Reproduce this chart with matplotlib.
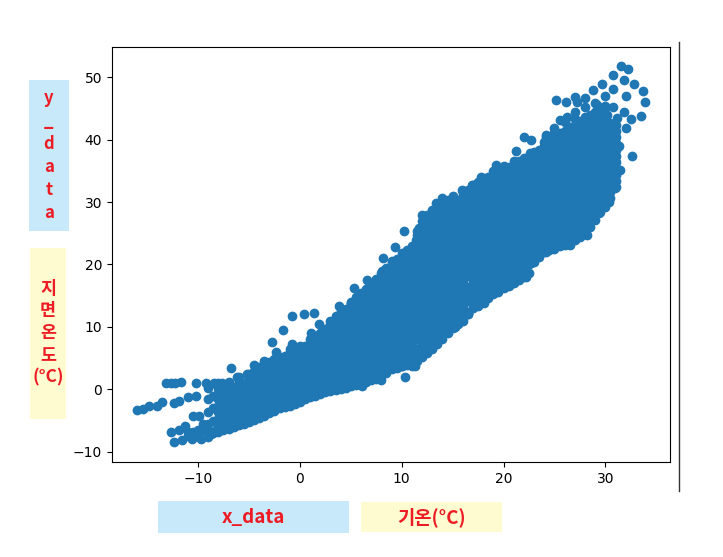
# -*- coding: utf-8 -*-
import matplotlib
matplotlib.use('Agg')
import matplotlib.pyplot as plt
from matplotlib.lines import Line2D
from matplotlib.patches import Rectangle

#%% Data
# points that stick out of the main band
edge_x = [-16.0, -15.45, -14.8, -14.0, -13.55, -13.15, -12.7, -12.3, -11.7, -12.4, -11.85, -11.0, -10.2,
          -12.7, -12.4, -11.85, -11.25, -10.5, -9.9, -11.6, -10.6, -9.7, -8.7, -8.2, -10.2, -9.2, -8.4, -7.6,
          -6.8, -6.2, -5.2, -4.5, -3.5, -2.7, -1.7, -0.8, 0.45, 1.4, 1.1, 1.9, -0.8, -0.3, -2.3,
          10.2, 9.3, 8.2, 8.1, 6.6, 5.3, 3.8, 7.5, 10.3, 8.0, 5.0, 13.0, 15.2, 11.3, 10.0, 6.1,
          12.0, 13.4, 14.0, 15.9, 11.4, 11.0, 11.7, 16.9, 17.8, 19.3, 21.2, 22.6, 22.0, 22.7, 24.2,
          16.5, 18.1, 19.4, 22.2, 22.7, 24.2, 26.5, 28.2, 29.4, 30.4, 30.9, 31.4, 32.6,
          31.5, 32.2, 30.8, 31.8, 32.8, 33.7, 33.9, 33.5, 32.5, 29.7, 28.8, 28.0, 27.0, 26.1, 25.2, 27.2,
          26.2, 25.5, 24.2, 32.0, 30.8, 31.8, 30.8, 32.0, 31.1, 31.3, 30.2, 29.2,
          -11.0, -10.5, -10.0, -9.5, -9.5, -11.0, -10.2, -9.0,
          16.2, 16.3, 16.2, 16.3, 16.2, 16.3, 16.2, 16.3, 16.2, 16.3, 16.2, 16.3, 16.2, 16.3, 16.2, 16.3]
edge_y = [-3.3, -3.2, -2.7, -2.6, -2.0, 1.07, 1.07, 1.07, 1.1, -2.2, -1.9, -1.2, -1.07,
          -6.9, -8.5, -6.5, -5.9, -4.3, -4.3, -8.2, -8.0, -7.9, -7.2, -6.6, 1.07, 1.07, 1.0, 1.0,
          3.45, 2.0, 2.5, 3.9, 4.5, 7.6, 9.5, 11.7, 12.0, 12.3, 9.1, 10.4, 7.2, 6.4, 5.9,
          25.4, 22.8, 21.0, 19.0, 17.5, 16.3, 13.3, 17.7, 2.0, 1.5, 13.9, 6.4, 10.0, 3.7, 3.7, 0.5,
          28.0, 29.8, 30.6, 32.0, 24.0, 22.4, 25.8, 32.7, 34.0, 35.9, 38.2, 37.9, 40.4, 40.0, 40.5,
          12.0, 13.9, 15.7, 18.0, 20.2, 22.0, 23.2, 24.8, 28.3, 30.0, 32.3, 35.1, 37.4,
          51.8, 51.3, 50.3, 49.5, 48.9, 47.8, 46.0, 43.8, 43.3, 49.0, 47.9, 46.6, 46.9, 46.0, 46.3, 46.0,
          43.7, 43.1, 40.7, 47.0, 48.2, 44.5, 45.3, 41.8, 43.4, 39.0, 44.0, 45.5,
          -7.5, -6.8, -6.5, -6.5, -5.5, -6.9, -7.2, -6.6,
          12.6, 14.6, 16.5, 18.5, 19.6, 20.6, 21.6, 22.6, 23.6, 24.6, 25.6, 26.6, 27.6, 28.6, 29.8, 30.8]

# main band, one list of ground temperatures per air temperature
air_temp = [-9.0, -8.5, -8.0, -7.5, -7.0, -6.5, -6.0, -5.5, -5.0, -4.5, -4.0, -3.5, -3.0, -2.5, -2.0, -1.5,
            -1.0, -0.5, 0.0, 0.5, 1.0, 1.5, 2.0, 2.5, 3.0, 3.5, 4.0, 4.5, 5.0, 5.5, 6.0, 6.5,
            7.0, 7.5, 8.0, 8.5, 9.0, 9.5, 10.0, 10.5, 11.0, 11.5, 12.0, 12.5, 13.0, 13.5, 14.0, 14.5,
            15.0, 15.5, 16.0, 16.5, 17.0, 17.5, 18.0, 18.5, 19.0, 19.5, 20.0, 20.5, 21.0, 21.5, 22.0, 22.5,
            23.0, 23.5, 24.0, 24.5, 25.0, 25.5, 26.0, 26.5, 27.0, 27.5, 28.0, 28.5, 29.0, 29.5, 30.0, 30.5, 31.0]
ground_temp = [
    [-7.6, -5.6, -3.6, -1.6, 0.2],
    [-7.0, -5.0, -3.0, -1.0],
    [-6.8, -4.8, -2.6, -0.6, 1.0],
    [-6.5, -4.4, -2.2, -0.2],
    [-6.4, -4.2, -2.0, 0.0, 1.2],
    [-6.0, -3.9, -1.8, 0.4],
    [-5.8, -3.6, -1.4, 0.6, 2.0],
    [-5.5, -3.3, -1.1, 1.0],
    [-5.2, -3.0, -0.8, 1.4, 2.4],
    [-4.9, -2.7, -0.5, 1.8, 3.0],
    [-4.6, -2.4, -0.2, 1.6, 3.6],
    [-4.2, -2.1, 0.1, 2.2, 3.9],
    [-3.8, -1.8, 0.4, 2.4, 4.4],
    [-3.4, -1.4, 0.7, 2.7, 4.8],
    [-3.0, -1.1, 1.0, 3.0, 5.2],
    [-2.8, -0.8, 1.3, 3.3, 5.3],
    [-2.6, -0.5, 1.6, 3.6, 5.6, 6.5],
    [-2.3, -0.2, 1.9, 3.9, 6.0],
    [-2.0, 0.1, 2.2, 4.2, 6.2, 7.0],
    [-1.6, 0.5, 2.5, 4.5, 6.5],
    [-1.2, 0.8, 2.8, 4.8, 6.8, 8.0],
    [-1.0, 1.1, 3.1, 5.1, 7.1, 8.4],
    [-0.8, 1.4, 3.4, 5.4, 7.4, 9.0],
    [-0.5, 1.7, 3.7, 5.7, 7.7, 9.6],
    [-0.3, 2.0, 4.0, 6.0, 8.0, 10.0, 11.0],
    [-0.1, 2.3, 4.3, 6.3, 8.3, 10.3, 11.8],
    [0.0, 2.6, 4.6, 6.6, 8.6, 10.6, 12.5],
    [0.2, 2.9, 4.9, 6.9, 8.9, 10.9, 12.9],
    [0.5, 3.0, 5.2, 7.2, 9.2, 11.2, 13.2, 14.0],
    [0.7, 3.3, 5.5, 7.5, 9.5, 11.5, 13.5, 14.8],
    [0.8, 3.6, 5.8, 7.8, 9.8, 11.8, 13.8, 15.5],
    [1.2, 3.9, 6.1, 8.1, 10.1, 12.1, 14.1, 16.0],
    [1.5, 4.0, 6.2, 8.4, 10.4, 12.4, 14.4, 16.6],
    [1.7, 4.3, 6.5, 8.7, 10.7, 12.7, 14.7, 16.9],
    [2.2, 4.6, 6.8, 9.0, 11.0, 13.0, 15.0, 17.0, 18.6],
    [2.6, 4.9, 7.1, 9.3, 11.3, 13.3, 15.3, 17.3, 19.5],
    [3.2, 5.2, 7.4, 9.6, 11.6, 13.6, 15.6, 17.6, 19.8, 20.6],
    [3.4, 5.5, 7.7, 9.9, 11.9, 13.9, 15.9, 17.9, 20.1],
    [3.7, 5.8, 8.0, 10.2, 12.2, 14.2, 16.2, 18.2, 20.4, 21.8],
    [3.9, 6.0, 8.3, 10.5, 12.5, 14.5, 16.5, 18.5, 20.7, 22.4],
    [3.8, 6.2, 8.6, 10.8, 12.8, 14.8, 16.8, 18.8, 21.0, 23.0],
    [4.5, 6.5, 8.9, 11.1, 13.1, 15.1, 17.1, 19.1, 21.3, 23.5, 25.4],
    [5.2, 7.2, 9.2, 11.4, 13.4, 15.4, 17.4, 19.4, 21.6, 23.8, 26.0, 27.0],
    [5.8, 7.8, 9.5, 11.7, 13.7, 15.7, 17.7, 19.7, 21.9, 24.1, 26.3, 28.0],
    [6.6, 8.2, 10.2, 12.0, 14.0, 16.0, 18.0, 20.0, 22.2, 24.4, 26.6, 28.8],
    [7.2, 9.0, 10.8, 12.3, 14.3, 16.3, 18.3, 20.3, 22.5, 24.7, 26.9, 29.0],
    [8.0, 10.0, 12.0, 14.0, 16.0, 18.0, 20.0, 22.0, 24.0, 26.0, 28.0, 30.0],
    [9.0, 10.9, 12.9, 14.9, 16.9, 18.9, 20.9, 22.9, 24.9, 26.9, 28.9, 30.3],
    [9.9, 11.8, 13.8, 15.8, 17.8, 19.8, 21.8, 23.8, 25.8, 27.8, 29.8, 31.0],
    [10.4, 12.4, 14.4, 16.4, 18.4, 20.4, 22.4, 24.4, 26.4, 28.4, 30.4],
    [10.9, 13.0, 15.0, 17.0, 19.0, 21.0, 23.0, 25.0, 27.0, 29.0, 31.0, 31.8],
    [12.2, 14.2, 16.2, 18.2, 20.2, 22.2, 24.2, 26.2, 28.2, 30.2, 32.0],
    [13.0, 15.0, 17.0, 19.0, 21.0, 23.0, 25.0, 27.0, 29.0, 31.0, 32.8],
    [13.4, 15.4, 17.4, 19.4, 21.4, 23.4, 25.4, 27.4, 29.4, 31.4, 33.2],
    [14.1, 16.0, 18.0, 20.0, 22.0, 24.0, 26.0, 28.0, 30.0, 32.0, 33.8],
    [14.6, 16.6, 18.6, 20.6, 22.6, 24.6, 26.6, 28.6, 30.6, 32.6, 34.0],
    [15.3, 17.2, 19.2, 21.2, 23.2, 25.2, 27.2, 29.2, 31.2, 33.2, 35.0],
    [15.6, 17.8, 19.8, 21.8, 23.8, 25.8, 27.8, 29.8, 31.8, 33.8, 35.2],
    [16.2, 18.2, 20.2, 22.2, 24.2, 26.2, 28.2, 30.2, 32.2, 34.2, 35.8],
    [16.6, 18.6, 20.6, 22.6, 24.6, 26.6, 28.6, 30.6, 32.6, 34.6],
    [17.1, 19.2, 21.2, 23.2, 25.2, 27.2, 29.2, 31.2, 33.2, 35.2, 36.6],
    [17.5, 19.6, 21.6, 23.6, 25.6, 27.6, 29.6, 31.6, 33.6, 35.6],
    [18.0, 20.0, 22.0, 24.0, 26.0, 28.0, 30.0, 32.0, 34.0, 36.0],
    [18.6, 20.6, 22.6, 24.6, 26.6, 28.6, 30.6, 32.6, 34.6, 36.6],
    [20.4, 22.2, 24.2, 26.2, 28.2, 30.2, 32.2, 34.2, 36.2, 38.0],
    [21.2, 23.0, 25.0, 27.0, 29.0, 31.0, 33.0, 35.0, 37.0, 38.4],
    [22.0, 24.0, 26.0, 28.0, 30.0, 32.0, 34.0, 36.0, 38.0, 39.6],
    [22.4, 24.4, 26.4, 28.4, 30.4, 32.4, 34.4, 36.4, 38.4, 40.4],
    [22.5, 24.8, 26.8, 28.8, 30.8, 32.8, 34.8, 36.8, 38.8, 40.6, 41.8],
    [23.0, 25.0, 27.0, 29.0, 31.0, 33.0, 35.0, 37.0, 39.0, 41.0],
    [23.2, 25.4, 27.4, 29.4, 31.4, 33.4, 35.4, 37.4, 39.4, 41.4, 42.8],
    [23.6, 25.8, 27.8, 29.8, 31.8, 33.8, 35.8, 37.8, 39.8, 41.8],
    [24.0, 26.2, 28.2, 30.2, 32.2, 34.2, 36.2, 38.2, 40.2, 42.2, 44.4],
    [24.4, 26.6, 28.6, 30.6, 32.6, 34.6, 36.6, 38.6, 40.6, 42.6],
    [24.9, 27.0, 29.0, 31.0, 33.0, 35.0, 37.0, 39.0, 41.0, 43.0, 45.2],
    [26.0, 28.0, 30.0, 32.0, 34.0, 36.0, 38.0, 40.0, 42.0, 44.0],
    [27.2, 29.4, 31.4, 33.4, 35.4, 37.4, 39.4, 41.4, 43.4, 45.8],
    [28.4, 30.4, 32.4, 34.4, 36.4, 38.4, 40.4, 42.4, 44.4],
    [29.2, 31.2, 33.2, 35.2, 37.2, 39.2, 41.2, 43.2, 45.4, 47.0],
    [30.6, 32.6, 34.6, 36.6, 38.6, 40.6, 42.6],
    [32.4, 34.4, 36.4, 38.4, 40.4, 42.4],
]

# second pass over the band, fills the space between the rows above
air_temp_fill = [-8, -7, -6, -5, -4, -3, -2, -1, 0, 1, 2, 3, 4, 5, 6, 7, 8, 9, 10, 11, 12, 13, 14, 15, 16,
                 17, 18, 19, 20, 21, 22, 23, 24, 25, 26, 27, 28, 29, 30, 31]
ground_temp_fill = [
    [-5.8, -3.7, -1.6, 0.2],
    [-5.3, -3.1, -1.0, 0.6],
    [-4.7, -2.5, -0.4, 1.3],
    [-4.1, -1.9, 0.3, 1.9],
    [-3.5, -1.3, 0.7, 2.6],
    [-2.8, -0.7, 1.4, 3.4],
    [-2.0, 0.0, 2.0, 4.1],
    [-1.5, 0.5, 2.6, 4.6, 6.0],
    [-1.0, 1.1, 3.2, 5.2, 6.6],
    [-0.2, 1.8, 3.8, 5.8, 7.4],
    [0.3, 2.4, 4.4, 6.4, 8.2],
    [0.8, 3.0, 5.0, 7.0, 9.0, 10.5],
    [1.3, 3.6, 5.6, 7.6, 9.6, 11.6],
    [1.8, 4.1, 6.2, 8.2, 10.2, 12.2, 13.6],
    [2.2, 4.7, 6.8, 8.8, 10.8, 12.8, 14.8],
    [2.8, 5.1, 7.3, 9.4, 11.4, 13.4, 15.4],
    [3.4, 5.7, 7.9, 10.0, 12.0, 14.0, 16.0, 17.8],
    [4.2, 6.3, 8.5, 10.6, 12.6, 14.6, 16.6, 18.7, 20.2],
    [4.8, 6.9, 9.1, 11.2, 13.2, 15.2, 17.2, 19.3, 21.1],
    [5.0, 7.4, 9.7, 11.8, 13.8, 15.8, 17.8, 19.9, 22.0],
    [6.5, 8.5, 10.4, 12.7, 14.7, 16.7, 18.7, 20.8, 23.0, 25.0],
    [7.4, 9.2, 11.1, 13.2, 15.2, 17.2, 19.2, 21.3, 23.5, 25.7, 27.8],
    [9.0, 11.0, 13.0, 15.0, 17.0, 19.0, 21.0, 23.0, 25.0, 27.0, 29.0],
    [10.9, 12.8, 14.8, 16.8, 18.8, 20.8, 22.8, 24.8, 26.8, 28.8, 30.6],
    [11.9, 14.0, 16.0, 18.0, 20.0, 22.0, 24.0, 26.0, 28.0, 30.0, 31.4],
    [13.9, 15.9, 17.9, 19.9, 21.9, 23.9, 25.9, 27.9, 29.9, 31.9],
    [15.0, 17.0, 19.0, 21.0, 23.0, 25.0, 27.0, 29.0, 31.0, 33.0],
    [16.4, 18.5, 20.5, 22.5, 24.5, 26.5, 28.5, 30.5, 32.5, 34.5],
    [17.2, 19.2, 21.2, 23.2, 25.2, 27.2, 29.2, 31.2, 33.2, 35.0],
    [18.0, 20.0, 22.0, 24.0, 26.0, 28.0, 30.0, 32.0, 34.0, 36.0],
    [19.0, 21.0, 23.0, 25.0, 27.0, 29.0, 31.0, 33.0, 35.0, 37.0],
    [21.3, 23.1, 25.1, 27.1, 29.1, 31.1, 33.1, 35.1, 37.1],
    [23.0, 25.0, 27.0, 29.0, 31.0, 33.0, 35.0, 37.0, 39.0],
    [23.9, 25.9, 27.9, 29.9, 31.9, 33.9, 35.9, 37.9, 39.9, 41.0],
    [24.3, 26.3, 28.3, 30.3, 32.3, 34.3, 36.3, 38.3, 40.3],
    [25.1, 27.1, 29.1, 31.1, 33.1, 35.1, 37.1, 39.1, 41.1, 43.3],
    [25.9, 27.9, 29.9, 31.9, 33.9, 35.9, 37.9, 39.9, 41.9, 43.6],
    [28.2, 30.2, 32.2, 34.2, 36.2, 38.2, 40.2, 42.2, 44.5],
    [30.2, 32.2, 34.2, 36.2, 38.2, 40.2, 42.5, 45.0],
    [33.4, 35.4, 37.4, 39.4, 41.4],
]

# third pass, half way between the second pass columns
air_temp_mid = [-7.5, -6.5, -5.5, -4.5, -3.5, -2.5, -1.5, -0.5, 0.5, 1.5, 2.5, 3.5, 4.5, 5.5, 6.5, 7.5, 8.5, 9.5,
                10.5, 11.5, 12.5, 13.5, 14.5, 15.5, 16.5, 17.5, 18.5, 19.5, 20.5, 21.5, 22.5, 23.5, 24.5, 25.5,
                26.5, 27.5, 28.5, 29.5, 30.5]
ground_temp_mid = [
    [-5.4, -3.3, -1.2],
    [-5.0, -2.9, -0.7],
    [-4.4, -2.2, 0.0],
    [-3.8, -1.6, 0.6, 2.4],
    [-3.2, -1.0, 1.1, 3.0],
    [-2.4, -0.4, 1.7, 3.7],
    [-1.8, 0.2, 2.3, 4.3],
    [-1.2, 0.8, 2.9, 5.0],
    [-0.6, 1.5, 3.5, 5.5, 7.0],
    [0.0, 2.1, 4.1, 6.1, 7.8],
    [0.6, 2.7, 4.7, 6.7, 8.7],
    [1.1, 3.3, 5.3, 7.3, 9.3, 11.0],
    [1.6, 3.9, 5.9, 7.9, 9.9, 11.9],
    [2.0, 4.4, 6.5, 8.5, 10.5, 12.5, 14.2],
    [2.6, 5.0, 7.1, 9.1, 11.1, 13.1, 15.1],
    [3.0, 5.4, 7.6, 9.7, 11.7, 13.7, 15.7],
    [3.8, 6.0, 8.2, 10.3, 12.3, 14.3, 16.3, 18.4],
    [4.5, 6.6, 8.8, 10.9, 12.9, 14.9, 16.9, 19.0, 20.8],
    [5.0, 7.2, 9.4, 11.5, 13.5, 15.5, 17.5, 19.6, 21.6],
    [6.0, 8.1, 10.2, 12.4, 14.4, 16.4, 18.4, 20.5, 22.7, 24.7],
    [6.8, 8.7, 10.6, 12.9, 14.9, 16.9, 18.9, 21.0, 23.2, 25.4, 27.2],
    [8.1, 9.9, 11.5, 13.3, 15.3, 17.3, 19.3, 21.4, 23.6, 25.8, 27.9],
    [9.9, 11.9, 13.9, 15.9, 17.9, 19.9, 21.9, 23.9, 25.9, 27.9, 29.6],
    [11.4, 13.4, 15.4, 17.4, 19.4, 21.4, 23.4, 25.4, 27.4, 29.4],
    [12.1, 14.1, 16.1, 18.1, 20.1, 22.1, 24.1, 26.1, 28.1, 30.1],
    [14.4, 16.4, 18.4, 20.4, 22.4, 24.4, 26.4, 28.4, 30.4, 32.4],
    [15.6, 17.6, 19.6, 21.6, 23.6, 25.6, 27.6, 29.6, 31.6, 33.6],
    [16.8, 18.8, 20.8, 22.8, 24.8, 26.8, 28.8, 30.8, 32.8, 34.8],
    [17.6, 19.6, 21.6, 23.6, 25.6, 27.6, 29.6, 31.6, 33.6, 35.6],
    [18.6, 20.6, 22.6, 24.6, 26.6, 28.6, 30.6, 32.6, 34.6, 36.6],
    [20.0, 22.0, 24.0, 26.0, 28.0, 30.0, 32.0, 34.0, 36.0],
    [22.2, 24.0, 26.0, 28.0, 30.0, 32.0, 34.0, 36.0, 38.0],
    [23.4, 25.4, 27.4, 29.4, 31.4, 33.4, 35.4, 37.4, 39.4],
    [24.2, 26.2, 28.2, 30.2, 32.2, 34.2, 36.2, 38.2, 40.2],
    [24.6, 26.6, 28.6, 30.6, 32.6, 34.6, 36.6, 38.6, 40.6, 42.0],
    [25.6, 27.6, 29.6, 31.6, 33.6, 35.6, 37.6, 39.6, 41.6, 43.0],
    [26.9, 28.9, 30.9, 32.9, 34.9, 36.9, 38.9, 40.9, 42.9],
    [29.4, 31.4, 33.4, 35.4, 37.4, 39.4, 41.4, 43.4],
    [31.6, 33.6, 35.6, 37.6, 39.6, 41.6],
]

x_ticks = [-10, 0, 10, 20, 30]
y_ticks = [-10, 0, 10, 20, 30, 40, 50]
x_labels = ['x_data', '기온(°C)']
y_labels = ['y\n_\nd\na\nt\na', '지\n면\n온\n도\n(°C)']

x_data = list(edge_x)
y_data = list(edge_y)
for temps, grounds in [(air_temp, ground_temp), (air_temp_fill, ground_temp_fill), (air_temp_mid, ground_temp_mid)]:
    for t, ground in zip(temps, grounds):
        x_data += [t] * len(ground)
        y_data += ground

#%% Plot
W, H = 723, 557
BLUE = '#C7E9FA'
YELLOW = '#FFFBD0'
RED = '#ED1C24'
plt.rcParams['font.family'] = ['Noto Sans CJK KR', 'DejaVu Sans']

fig = plt.figure(figsize=(W / 100, H / 100), dpi=100)
ax = fig.add_axes([112 / W, 1 - 462 / H, 558 / W, 415 / H])
ax.scatter(x_data, y_data, s=36, color='#1f77b4')
ax.set_xlim(-18.45, 36.35)
ax.set_ylim(-11.65, 54.85)
ax.set_xticks(x_ticks)
ax.set_yticks(y_ticks)
ax.set_xticklabels(['\u2212' + str(-v) if v < 0 else str(v) for v in x_ticks], family='DejaVu Sans', fontsize=10)
ax.set_yticklabels(['\u2212' + str(-v) if v < 0 else str(v) for v in y_ticks], family='DejaVu Sans', fontsize=10)


def label_box(left, top, right, bottom, color, text, size, spacing=1.0):
    fig.add_artist(Rectangle((left / W, 1 - bottom / H), (right - left) / W, (bottom - top) / H,
                             transform=fig.transFigure, facecolor=color, edgecolor='none'))
    fig.text((left + right) / 2 / W, 1 - (top + bottom) / 2 / H, text, color=RED, fontsize=size,
             fontweight='bold', ha='center', va='center', linespacing=spacing)


label_box(29, 80, 69, 231, BLUE, y_labels[0], 12, 1.36)
label_box(30, 248, 66, 419, YELLOW, y_labels[1], 12.5, 1.3)
label_box(158, 501, 349, 533, BLUE, x_labels[0], 13.5)
label_box(361, 502, 502, 532, YELLOW, x_labels[1], 13.5)

# thin rule right of the axes
fig.add_artist(Line2D([678.5 / W, 678.5 / W], [1 - 42 / H, 1 - 491 / H], transform=fig.transFigure,
                      color='#333333', linewidth=1))

fig.savefig('out.png', dpi=100)
